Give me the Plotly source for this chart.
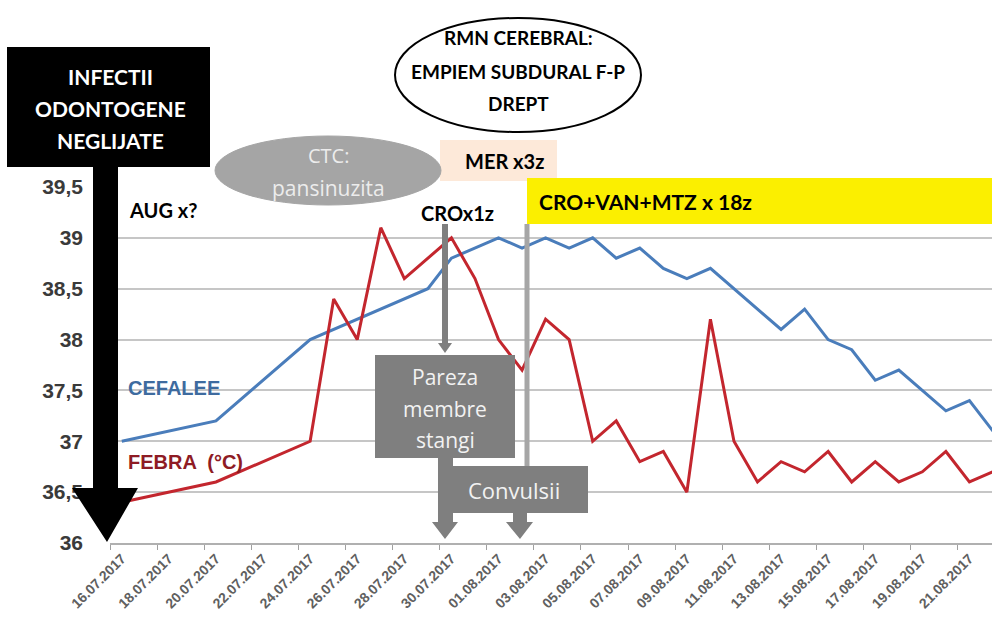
import plotly.graph_objects as go
import pandas as pd

# ---------------- data ----------------
cefalee_dates = ["2017-07-16", "2017-07-20", "2017-07-24", "2017-07-29", "2017-07-30",
                 "2017-08-01", "2017-08-02", "2017-08-03", "2017-08-04", "2017-08-05",
                 "2017-08-06", "2017-08-07", "2017-08-08", "2017-08-09", "2017-08-10",
                 "2017-08-13", "2017-08-14", "2017-08-15", "2017-08-16", "2017-08-17",
                 "2017-08-18", "2017-08-20", "2017-08-21", "2017-08-22"]
cefalee_values = [37.0, 37.2, 38.0, 38.5, 38.8,
                  39.0, 38.9, 39.0, 38.9, 39.0,
                  38.8, 38.9, 38.7, 38.6, 38.7,
                  38.1, 38.3, 38.0, 37.9, 37.6,
                  37.7, 37.3, 37.4, 37.1]

febra_dates = ["2017-07-16", "2017-07-20", "2017-07-24", "2017-07-25", "2017-07-26",
               "2017-07-27", "2017-07-28", "2017-07-30", "2017-07-31", "2017-08-01",
               "2017-08-02", "2017-08-03", "2017-08-04", "2017-08-05", "2017-08-06",
               "2017-08-07", "2017-08-08", "2017-08-09", "2017-08-10", "2017-08-11",
               "2017-08-12", "2017-08-13", "2017-08-14", "2017-08-15", "2017-08-16",
               "2017-08-17", "2017-08-18", "2017-08-19", "2017-08-20", "2017-08-21",
               "2017-08-22"]
febra_values = [36.4, 36.6, 37.0, 38.4, 38.0,
                39.1, 38.6, 39.0, 38.6, 38.0,
                37.7, 38.2, 38.0, 37.0, 37.2,
                36.8, 36.9, 36.5, 38.2, 37.0,
                36.6, 36.8, 36.7, 36.9, 36.6,
                36.8, 36.6, 36.7, 36.9, 36.6,
                36.7]

x_tick_dates = ["2017-07-16", "2017-07-18", "2017-07-20", "2017-07-22", "2017-07-24",
                "2017-07-26", "2017-07-28", "2017-07-30", "2017-08-01", "2017-08-03",
                "2017-08-05", "2017-08-07", "2017-08-09", "2017-08-11", "2017-08-13",
                "2017-08-15", "2017-08-17", "2017-08-19", "2017-08-21"]
x_tick_labels = ["16.07.2017", "18.07.2017", "20.07.2017", "22.07.2017", "24.07.2017",
                 "26.07.2017", "28.07.2017", "30.07.2017", "01.08.2017", "03.08.2017",
                 "05.08.2017", "07.08.2017", "09.08.2017", "11.08.2017", "13.08.2017",
                 "15.08.2017", "17.08.2017", "19.08.2017", "21.08.2017"]
y_tick_values = [36, 36.5, 37, 37.5, 38, 38.5, 39, 39.5]
y_tick_labels = ["36", "36,5", "37", "37,5", "38", "38,5", "39", "39,5"]

# ---------------- layout helpers ----------------
W, H = 992, 627
def px(x):
    return x / W
def py(y):
    return 1 - y / H

BLUE = "#4a7dbb"
RED = "#c3262e"
GRAY_BOX = "#7f7f7f"
GRID = "#c6c6c6"

fig = go.Figure()
fig.add_trace(go.Scatter(x=cefalee_dates, y=cefalee_values, mode="lines",
                         line=dict(color=BLUE, width=3), name="CEFALEE"))
fig.add_trace(go.Scatter(x=febra_dates, y=febra_values, mode="lines",
                         line=dict(color=RED, width=3), name="FEBRA"))

minor_ticks = [(pd.Timestamp(d) - pd.Timedelta(hours=12)).strftime("%Y-%m-%d %H:%M")
               for d in x_tick_dates]

shapes = []
def rect(x0, y0, x1, y1, fill, line_color=None, lw=0):
    shapes.append(dict(type="rect", xref="paper", yref="paper",
                       x0=px(x0), x1=px(x1), y0=py(y1), y1=py(y0),
                       fillcolor=fill, line=dict(color=line_color or fill, width=lw),
                       layer="above"))
def ellipse(x0, y0, x1, y1, fill, line_color, lw):
    shapes.append(dict(type="circle", xref="paper", yref="paper",
                       x0=px(x0), x1=px(x1), y0=py(y1), y1=py(y0),
                       fillcolor=fill, line=dict(color=line_color, width=lw),
                       layer="above"))
def poly(pts, fill):
    d = "M " + " L ".join(f"{px(a):.5f},{py(b):.5f}" for a, b in pts) + " Z"
    shapes.append(dict(type="path", xref="paper", yref="paper", path=d,
                       fillcolor=fill, line=dict(color=fill, width=0), layer="above"))
def vline(x, y0, y1, color, lw):
    shapes.append(dict(type="line", xref="paper", yref="paper",
                       x0=px(x), x1=px(x), y0=py(y0), y1=py(y1),
                       line=dict(color=color, width=lw), layer="above"))

# treatment boxes
rect(440, 140, 557, 181, "#fde9d9")
rect(527, 178, 992, 224, "#fbef00")

# ellipses
ellipse(395, 18, 641, 132, "white", "black", 2)
ellipse(215, 136, 441, 205, "#a5a5a5", "#a5a5a5", 1)

# gray markers
vline(445, 224, 346, GRAY_BOX, 6)
poly([(438, 343), (452, 343), (445, 353)], GRAY_BOX)
vline(527, 224, 467, "#a6a6a6", 5)

# Pareza callout
rect(375, 355, 515, 458, GRAY_BOX)
poly([(438, 458), (453, 458), (453, 522), (458, 522), (445, 539),
      (432, 522), (438, 522)], GRAY_BOX)
# Convulsii callout
rect(438, 466, 588, 513, GRAY_BOX)
poly([(513, 513), (527, 513), (527, 522), (533, 522), (520, 539),
      (506, 522), (513, 522)], GRAY_BOX)

# black arrow
rect(7, 47, 210, 167, "black")
poly([(93, 166), (118, 166), (118, 488), (138, 488), (107, 542),
      (72, 488), (93, 488)], "black")

ann = []
def text(x, y, s, size, color="black", bold=True, family="Lato", xanchor="center"):
    ann.append(dict(xref="paper", yref="paper", x=px(x), y=py(y), text=s,
                    showarrow=False, xanchor=xanchor, yanchor="middle",
                    font=dict(size=size, color=color, family=family,
                              weight="bold" if bold else "normal")))

text(110, 76, "INFECTII", 21, "white")
text(110, 108, "ODONTOGENE", 21, "white")
text(110, 140, "NEGLIJATE", 21, "white")

text(518, 37, "RMN CEREBRAL:", 19)
text(518, 71, "EMPIEM SUBDURAL F-P", 19)
text(518, 103, "DREPT", 19)

text(328, 156, "CTC:", 20, "#ececec", bold=False, family="Open Sans")
text(328, 188, "pansinuzita", 21, "#ececec", bold=False, family="Open Sans")

text(504, 161, "MER x3z", 20)
text(537, 201, "CRO+VAN+MTZ x 18z", 21, xanchor="left")
text(127, 210, "AUG x?", 20, xanchor="left")
text(457, 213, "CROx1z", 20)

text(445, 377, "Pareza", 21, "#f2f2f2", bold=False, family="Open Sans")
text(445, 409, "membre", 21, "#f2f2f2", bold=False, family="Open Sans")
text(445, 440, "stangi", 21, "#f2f2f2", bold=False, family="Open Sans")
text(514, 490, "Convulsii", 22, "#f2f2f2", bold=False, family="Open Sans")

text(126, 388, "CEFALEE", 20, "#3e6b9f", xanchor="left", family="Liberation Sans")
text(126, 462, "FEBRA  (°C)", 20, "#8e1b24", xanchor="left", family="Liberation Sans")

fig.update_layout(
    width=W, height=H,
    margin=dict(l=0, r=0, t=0, b=0),
    paper_bgcolor="white", plot_bgcolor="white",
    showlegend=False,
    shapes=shapes, annotations=ann,
    xaxis=dict(
        type="date", domain=[px(110), 1],
        range=["2017-07-15 12:00", "2017-08-21 23:00"],
        tickmode="array", tickvals=x_tick_dates, ticktext=x_tick_labels,
        tickangle=-45, ticks="", showgrid=False,
        tickfont=dict(size=14, color="#606060", family="Liberation Sans", weight="bold"),
        showline=True, linecolor="#b0b0b0", linewidth=2,
        minor=dict(tickmode="array", tickvals=minor_ticks, ticks="outside",
                   ticklen=5, tickwidth=1, tickcolor="#a0a0a0", showgrid=False),
        automargin=False, zeroline=False,
    ),
    yaxis=dict(
        domain=[py(543), py(187)], range=[36, 39.5],
        tickmode="array", tickvals=y_tick_values, ticktext=y_tick_labels,
        ticks="", ticklabelstandoff=26,
        tickfont=dict(size=21, color="#3a3a3a", family="Liberation Sans", weight="bold"),
        showgrid=True, gridcolor=GRID, gridwidth=2,
        showline=False, zeroline=False, automargin=False,
    ),
)

fig.write_html("out.html",
               config={"displayModeBar": False},
               post_script="document.body.style.margin='0px';"
                           "document.body.style.overflow='hidden';")
